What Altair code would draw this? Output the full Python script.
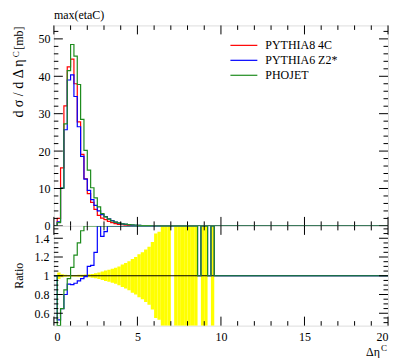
import altair as alt
import pandas as pd

# ---------------- data ----------------
names = ["PYTHIA8 4C", "PYTHIA6 Z2*", "PHOJET"]
colors = ["#ff0000", "#0000ff", "#1e8c1e"]

bin_width = 0.2
x_max = 20.0

# d sigma / d Delta eta^C [mb], bins starting at 0.0, 0.2, ... 9.6
red = [0.0, 2.0, 15.5, 32.1, 42.5, 44.6, 38.0, 27.8, 19.1, 12.6,
       8.6, 6.3, 4.4, 2.8, 2.1, 1.7, 1.2, 0.85, 0.6, 0.42,
       0.3, 0.21, 0.15, 0.11, 0.08, 0.055, 0.04, 0.03, 0.02, 0.014,
       0.01, 0.007, 0.005, 0.004, 0.003, 0.0, 0.002, 0.002, 0.001, 0.001,
       0.001, 0.001, 0.001, 0.0, 0.001, 0.001, 0.0, 0.001, 0.0]
blue = [0.0, 1.06, 10.1, 25.7, 39.0, 40.4, 34.6, 26.5, 18.6, 12.5,
        9.5, 7.0, 5.5, 4.0, 3.0, 2.5, 1.9, 1.4, 1.0, 0.75,
        0.55, 0.4, 0.3, 0.22, 0.16, 0.12, 0.09, 0.065, 0.045, 0.03,
        0.022, 0.016, 0.012, 0.009, 0.007, 0.005, 0.004, 0.003, 0.003, 0.002,
        0.002, 0.002, 0.001, 0.001, 0.001, 0.001, 0.001, 0.001, 0.0]
green = [0.0, 0.85, 10.1, 27.3, 41.5, 48.5, 45.4, 37.8, 28.5, 20.2,
         14.9, 10.2, 7.5, 5.1, 3.3, 2.4, 1.8, 1.3, 1.0, 0.8,
         0.55, 0.45, 0.35, 0.27, 0.2, 0.15, 0.1, 0.075, 0.055, 0.04,
         0.03, 0.022, 0.016, 0.012, 0.009, 0.007, 0.005, 0.004, 0.003, 0.003,
         0.002, 0.002, 0.001, 0.001, 0.001, 0.001, 0.001, 0.001, 0.0]

# ratios to PYTHIA8 4C, bins starting at 0.0 ... 9.6 (values above 1.53 run off the panel)
ratio_blue = [1.0, 0.53, 0.65, 0.80, 0.91, 0.905, 0.92, 0.945, 0.97, 0.99,
              1.10, 1.11, 1.25, 1.60, 1.42, 1.47,
              1.6, 1.6, 1.6, 1.6, 1.6, 1.6, 1.6, 1.6, 1.6, 1.6,
              1.6, 1.6, 1.6, 1.6, 1.6, 1.6, 1.6, 1.6, 1.6, 1.6,
              1.6, 1.6, 1.6, 1.6, 1.6, 1.6, 1.6,
              1.0, 1.6, 1.6, 1.0, 1.6, 1.0]
ratio_green = [1.0, 0.40, 0.65, 0.85, 0.97, 1.09, 1.22, 1.35, 1.48,
               1.6, 1.6, 1.6, 1.6, 1.6, 1.6, 1.6, 1.6, 1.6, 1.6,
               1.6, 1.6, 1.6, 1.6, 1.6, 1.6, 1.6, 1.6, 1.6, 1.6,
               1.6, 1.6, 1.6, 1.6, 1.6, 1.6, 1.6, 1.6, 1.6, 1.6,
               1.6, 1.6, 1.6, 1.6,
               1.0, 1.6, 1.6, 1.0, 1.6, 1.0]
# relative uncertainty of the reference (yellow band), bins 0.0 ... 9.4
band = [0.0, 0.035, 0.015, 0.011, 0.009, 0.009, 0.009, 0.010, 0.012, 0.014,
        0.016, 0.020, 0.026, 0.034, 0.045, 0.055, 0.065, 0.075, 0.085, 0.10,
        0.12, 0.135, 0.155, 0.18, 0.20, 0.23, 0.25, 0.28, 0.31, 0.36,
        0.45, 0.47, 1.0, 1.0, 1.0, 0.0, 1.0, 1.0, 1.0, 1.0,
        1.0, 1.0, 1.0, 0.0, 1.0, 1.0, 0.0, 1.0]

x_major = [0, 5, 10, 15, 20]
x_minor = [1, 2, 3, 4, 6, 7, 8, 9, 11, 12, 13, 14, 16, 17, 18, 19]
main_y_major = [0, 10, 20, 30, 40, 50]
main_y_minor = [2, 4, 6, 8, 12, 14, 16, 18, 22, 24, 26, 28, 32, 34, 36, 38,
                42, 44, 46, 48, 52]
ratio_y_major = [0.6, 0.8, 1.0, 1.2, 1.4]
ratio_y_minor = [0.5, 0.55, 0.65, 0.7, 0.75, 0.85, 0.9, 0.95, 1.05, 1.1, 1.15,
                 1.25, 1.3, 1.35, 1.45, 1.5]

title_text = "max(etaC)"

# ---------------- layout ----------------
W, H1, H2 = 335, 201, 100
FONT = "Liberation Serif"
MAJ, MIN = 9, 4.5

xs = alt.Scale(domain=[0, x_max], nice=False, zero=False)
ys_main = alt.Scale(domain=[0, 53.6], nice=False, zero=False)
ys_ratio = alt.Scale(domain=[0.468, 1.532], nice=False, zero=False, clamp=True)

main_y_axis = alt.Axis(values=main_y_major, ticks=False, domain=False, grid=False,
                       labelFont=FONT, labelFontSize=12, labelPadding=4,
                       labelColor="black", title=None)
ratio_y_axis = alt.Axis(values=ratio_y_major, ticks=False, domain=False, grid=False,
                        labelFont=FONT, labelFontSize=12, labelPadding=5,
                        labelColor="black", title=None,
                        labelExpr="datum.value == 1 ? '1' : format(datum.value, '.1f')")
ratio_x_axis = alt.Axis(values=x_major, ticks=False, domain=False, grid=False,
                        labelFont=FONT, labelFontSize=12, labelPadding=6,
                        labelColor="black", title=None)


def steps(values, start=0.0):
    n = len(values)
    x = [round(start + i * bin_width, 4) for i in range(n)] + [x_max]
    y = list(values) + [values[-1]]
    return pd.DataFrame({"x": x, "y": y})


def step_line(values, color, yscale, yaxis, xaxis):
    return alt.Chart(steps(values)).mark_line(
        interpolate="step-after", color=color, strokeWidth=1.2, clip=True
    ).encode(x=alt.X("x:Q", scale=xs, axis=xaxis),
             y=alt.Y("y:Q", scale=yscale, axis=yaxis))


def y_ticks(vals, length, yscale, yaxis, xaxis):
    df = pd.DataFrame({"v": vals})
    left = alt.Chart(df).mark_rule(color="black", strokeWidth=1).encode(
        y=alt.Y("v:Q", scale=yscale, axis=yaxis),
        x=alt.value(0), x2=alt.value(length))
    right = alt.Chart(df).mark_rule(color="black", strokeWidth=1).encode(
        y=alt.Y("v:Q", scale=yscale, axis=yaxis),
        x=alt.value(W), x2=alt.value(W - length))
    return [left, right]


def x_ticks(vals, length, H, xaxis):
    df = pd.DataFrame({"v": vals})
    top = alt.Chart(df).mark_rule(color="black", strokeWidth=1).encode(
        x=alt.X("v:Q", scale=xs, axis=xaxis), y=alt.value(0), y2=alt.value(length))
    bot = alt.Chart(df).mark_rule(color="black", strokeWidth=1).encode(
        x=alt.X("v:Q", scale=xs, axis=xaxis), y=alt.value(H), y2=alt.value(H - length))
    return [top, bot]


def label(text, x, y, size=12, align="left", baseline="alphabetic", angle=0):
    kw = dict(font=FONT, fontSize=size, align=align, baseline=baseline, color="black")
    if angle:
        kw["angle"] = angle
    return alt.Chart(pd.DataFrame({"t": [text]})).mark_text(**kw).encode(
        x=alt.value(x), y=alt.value(y), text="t:N")


# ---------------- main panel ----------------
main_layers = []
for vals, c in zip([red, blue, green], colors):
    main_layers.append(step_line(vals, c, ys_main, main_y_axis, None))
main_layers += y_ticks(main_y_major, MAJ, ys_main, main_y_axis, None)
main_layers += y_ticks(main_y_minor, MIN, ys_main, main_y_axis, None)
main_layers += x_ticks(x_major, MAJ, H1, None)
main_layers += x_ticks(x_minor, MIN, H1, None)

# legend
for i, (n, c) in enumerate(zip(names, colors)):
    yy = 20 + 15 * i
    main_layers.append(
        alt.Chart(pd.DataFrame({"n": [n]})).mark_rule(color=c, strokeWidth=1.2).encode(
            x=alt.value(177), x2=alt.value(204), y=alt.value(yy)))
    main_layers.append(label(n, 212, yy, baseline="middle"))

# title and y-axis title
main_layers.append(label(title_text, 0, -6))
main_layers.append(label("[mb]", -31, 1, size=12, align="right", angle=270))
main_layers.append(label("C", -35, 26, size=9, align="right", angle=270))
main_layers.append(label("d σ / d Δ η", -31, 34, size=14, align="right", angle=270))

main = alt.layer(*main_layers).properties(width=W, height=H1)

# ---------------- ratio panel ----------------
bdf = pd.DataFrame({
    "x": [round(i * bin_width, 4) for i in range(len(band))],
    "x2": [round((i + 1) * bin_width, 4) for i in range(len(band))],
    "lo": [1 - e for e in band],
    "hi": [1 + e for e in band],
    "e": band,
})
bdf = bdf[bdf["e"] > 0]
band_layer = alt.Chart(bdf).mark_rect(color="#ffff00", clip=True).encode(
    x=alt.X("x:Q", scale=xs, axis=ratio_x_axis), x2="x2:Q",
    y=alt.Y("lo:Q", scale=ys_ratio, axis=ratio_y_axis), y2="hi:Q")

one_line = alt.Chart(pd.DataFrame({"v": [1.0]})).mark_rule(color="black", strokeWidth=1).encode(
    y=alt.Y("v:Q", scale=ys_ratio, axis=ratio_y_axis))

ratio_layers = [band_layer, one_line,
                step_line(ratio_blue, colors[1], ys_ratio, ratio_y_axis, ratio_x_axis),
                step_line(ratio_green, colors[2], ys_ratio, ratio_y_axis, ratio_x_axis)]
ratio_layers += y_ticks(ratio_y_major, MAJ, ys_ratio, ratio_y_axis, ratio_x_axis)
ratio_layers += y_ticks(ratio_y_minor, MIN, ys_ratio, ratio_y_axis, ratio_x_axis)
ratio_layers += x_ticks(x_major, MAJ, H2, ratio_x_axis)
ratio_layers += x_ticks(x_minor, MIN, H2, ratio_x_axis)
ratio_layers.append(label("Ratio", -31, H2 / 2, size=12, align="center", angle=270))
ratio_layers.append(label("Δη", 327, 130, size=12, align="right"))
ratio_layers.append(label("C", 328, 125, size=9, align="left"))

ratio = alt.layer(*ratio_layers).properties(width=W, height=H2)

chart = alt.vconcat(main, ratio, spacing=0, bounds="flush").properties(
    padding={"left": 3, "top": 0, "right": 0, "bottom": 0}
).configure_view(stroke="black", strokeWidth=1).configure(background="white")

chart.save("out.html", embed_options={"renderer": "svg", "actions": False})
